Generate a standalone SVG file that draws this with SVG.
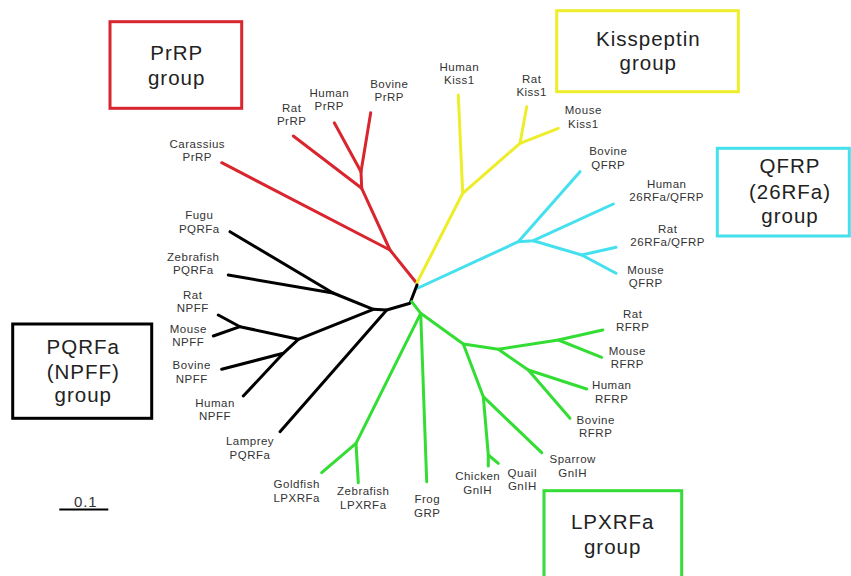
<svg xmlns="http://www.w3.org/2000/svg" width="851" height="576" viewBox="0 0 851 576">
<style>
.lbl{font-family:"Liberation Sans",Arial,sans-serif;font-size:11.5px;letter-spacing:0.5px;fill:#333;text-anchor:middle}
.grp{font-family:"Liberation Sans",Arial,sans-serif;font-size:20.5px;letter-spacing:1px;fill:#222;text-anchor:middle}
.box{fill:none;stroke-width:3}
.br{fill:none;stroke-width:3;stroke-linecap:round;stroke-linejoin:round}
.red{stroke:#d9262e}
.yel{stroke:#eded2a}
.cya{stroke:#45e0ee}
.blk{stroke:#000}
.grn{stroke:#33dd33}
</style>
<rect width="851" height="576" fill="#fff"/>
<g id="connectors">
  <g class="br red">
    <path d="M416.7,283.3 L390,250 L361.7,188.3"/>
    <path d="M390,250 L221.7,162.7"/>
    <path d="M361.7,188.3 L293.3,136"/>
    <path d="M361.7,188.3 L361,171.7 L334.3,122.7"/>
    <path d="M361,171.7 L370.7,112.7"/>
  </g>
  <g class="br yel">
    <path d="M416.7,283.3 L462.7,193.3 L458.3,95"/>
    <path d="M462.7,193.3 L520,143.3 L526.7,106.7"/>
    <path d="M520,143.3 L558.3,128.3"/>
  </g>
  <g class="br cya">
    <path d="M418,288 L518.3,241.7 L580,171.7"/>
    <path d="M518.3,241.7 L533.3,240.7 L613.3,204"/>
    <path d="M533.3,240.7 L581.7,255 L616,247.3"/>
    <path d="M581.7,255 L616,273.3"/>
  </g>
  <g class="br blk">
    <path d="M417,285 L410,303.3 L386.7,310 L373.3,309.3 L333,293 L230,231.7"/>
    <path d="M333,293 L228.3,275"/>
    <path d="M373.3,309.3 L298.3,339.3 L240,326.7 L218.3,315"/>
    <path d="M240,326.7 L213.3,336"/>
    <path d="M298.3,339.3 L283.3,353.3 L221.7,369.3"/>
    <path d="M283.3,353.3 L243.3,396"/>
    <path d="M386.7,310 L280,431.7"/>
  </g>
  <g class="br grn">
    <path d="M411.7,301.7 L420.7,313.3 L426.7,481.7"/>
    <path d="M420.7,313.3 L356,443.3 L321.7,472.7"/>
    <path d="M356,443.3 L358.3,482.7"/>
    <path d="M420.7,313.3 L463.3,344 L498.3,349.3 L558.3,340 L602.7,330"/>
    <path d="M558.3,340 L601.7,357.3"/>
    <path d="M498.3,349.3 L528.3,370 L586.7,389"/>
    <path d="M528.3,370 L570,418.3"/>
    <path d="M463.3,344 L483.3,396.7 L541.7,452.7"/>
    <path d="M483.3,396.7 L488.3,455 L488.3,466"/>
    <path d="M488.3,455 L498.3,463.3"/>
  </g>
</g>
<g id="group-prrp"><rect class="box red" x="110" y="21.7" width="131.7" height="86.6"/><text class="grp" x="176.7" y="60.3">PrRP</text><text class="grp" x="176.7" y="85.3">group</text></g>
<g id="group-kiss"><rect class="box yel" x="556.7" y="10.7" width="181.6" height="81"/><text class="grp" x="648.3" y="46.3">Kisspeptin</text><text class="grp" x="648.3" y="70.3">group</text></g>
<g id="group-qfrp"><rect class="box cya" x="717.3" y="148.3" width="132" height="87.7"/><text class="grp" x="790" y="172.7">QFRP</text><text class="grp" x="790" y="198.7">(26RFa)</text><text class="grp" x="790" y="223">group</text></g>
<g id="group-pqrfa"><rect class="box blk" x="12.7" y="324" width="139" height="94.3"/><text class="grp" x="83.3" y="353.7">PQRFa</text><text class="grp" x="83.3" y="378.7">(NPFF)</text><text class="grp" x="83.3" y="402">group</text></g>
<g id="group-lpxrfa"><rect class="box grn" x="544" y="490.7" width="137.7" height="95"/><text class="grp" x="612.7" y="528.7">LPXRFa</text><text class="grp" x="612.7" y="553.7">group</text></g>

<g id="carassius-prrp"><text class="lbl" x="197.3" y="147.5">Carassius<tspan x="197.3" dy="13.4">PrRP</tspan></text></g>
<g id="rat-prrp"><text class="lbl" x="291.7" y="111.5">Rat<tspan x="291.7" dy="13.4">PrRP</tspan></text></g>
<g id="human-prrp"><text class="lbl" x="329.3" y="96.9">Human<tspan x="329.3" dy="12.6">PrRP</tspan></text></g>
<g id="bovine-prrp"><text class="lbl" x="389.3" y="87.5">Bovine<tspan x="389.3" dy="13.4">PrRP</tspan></text></g>

<g id="human-kiss1"><text class="lbl" x="459.3" y="70.9">Human<tspan x="459.3" dy="13.4">Kiss1</tspan></text></g>
<g id="rat-kiss1"><text class="lbl" x="531.7" y="82.9">Rat<tspan x="531.7" dy="13">Kiss1</tspan></text></g>
<g id="mouse-kiss1"><text class="lbl" x="583.3" y="114.2">Mouse<tspan x="583.3" dy="13.3">Kiss1</tspan></text></g>

<g id="bovine-qfrp"><text class="lbl" x="608.3" y="155.2">Bovine<tspan x="608.3" dy="13.3">QFRP</tspan></text></g>
<g id="human-qfrp"><text class="lbl" x="666.7" y="187.5">Human<tspan x="666.7" dy="13.4">26RFa/QFRP</tspan></text></g>
<g id="rat-qfrp"><text class="lbl" x="667.7" y="232.5">Rat<tspan x="667.7" dy="13.4">26RFa/QFRP</tspan></text></g>
<g id="mouse-qfrp"><text class="lbl" x="645.7" y="273.5">Mouse<tspan x="645.7" dy="13.4">QFRP</tspan></text></g>

<g id="fugu-pqrfa"><text class="lbl" x="199.3" y="219.2">Fugu<tspan x="199.3" dy="14">PQRFa</tspan></text></g>
<g id="zebrafish-pqrfa"><text class="lbl" x="193.3" y="260.9">Zebrafish<tspan x="193.3" dy="13.3">PQRFa</tspan></text></g>
<g id="rat-npff"><text class="lbl" x="192.7" y="298.5">Rat<tspan x="192.7" dy="13.4">NPFF</tspan></text></g>
<g id="mouse-npff"><text class="lbl" x="188.3" y="332.5">Mouse<tspan x="188.3" dy="13.4">NPFF</tspan></text></g>
<g id="bovine-npff"><text class="lbl" x="191.7" y="369.2">Bovine<tspan x="191.7" dy="14">NPFF</tspan></text></g>
<g id="human-npff"><text class="lbl" x="215" y="406.9">Human<tspan x="215" dy="13.3">NPFF</tspan></text></g>
<g id="lamprey-pqrfa"><text class="lbl" x="250" y="444.9">Lamprey<tspan x="250" dy="13.6">PQRFa</tspan></text></g>

<g id="goldfish-lpxrfa"><text class="lbl" x="296.7" y="487.5">Goldfish<tspan x="296.7" dy="14">LPXRFa</tspan></text></g>
<g id="zebrafish-lpxrfa"><text class="lbl" x="363.3" y="495.2">Zebrafish<tspan x="363.3" dy="14">LPXRFa</tspan></text></g>
<g id="frog-grp"><text class="lbl" x="427.3" y="503.2">Frog<tspan x="427.3" dy="13.3">GRP</tspan></text></g>
<g id="chicken-gnih"><text class="lbl" x="477.7" y="480.2">Chicken<tspan x="477.7" dy="13.3">GnIH</tspan></text></g>
<g id="quail-gnih"><text class="lbl" x="522.3" y="476.5">Quail<tspan x="522.3" dy="13.4">GnIH</tspan></text></g>
<g id="sparrow-gnih"><text class="lbl" x="572.7" y="463.2">Sparrow<tspan x="572.7" dy="13.3">GnIH</tspan></text></g>
<g id="bovine-rfrp"><text class="lbl" x="595.7" y="423.5">Bovine<tspan x="595.7" dy="13.4">RFRP</tspan></text></g>
<g id="human-rfrp"><text class="lbl" x="611.7" y="389.2">Human<tspan x="611.7" dy="13.3">RFRP</tspan></text></g>
<g id="mouse-rfrp"><text class="lbl" x="627.3" y="354.9">Mouse<tspan x="627.3" dy="12.6">RFRP</tspan></text></g>
<g id="rat-rfrp"><text class="lbl" x="632.7" y="317.5">Rat<tspan x="632.7" dy="13.4">RFRP</tspan></text></g>

<g id="scale-bar"><text class="lbl" x="85.7" y="506.5" style="font-size:15px;letter-spacing:0.8px">0.1</text><line x1="59.3" y1="509.5" x2="108.3" y2="509.5" stroke="#000" stroke-width="1.8"/></g>
</svg>
